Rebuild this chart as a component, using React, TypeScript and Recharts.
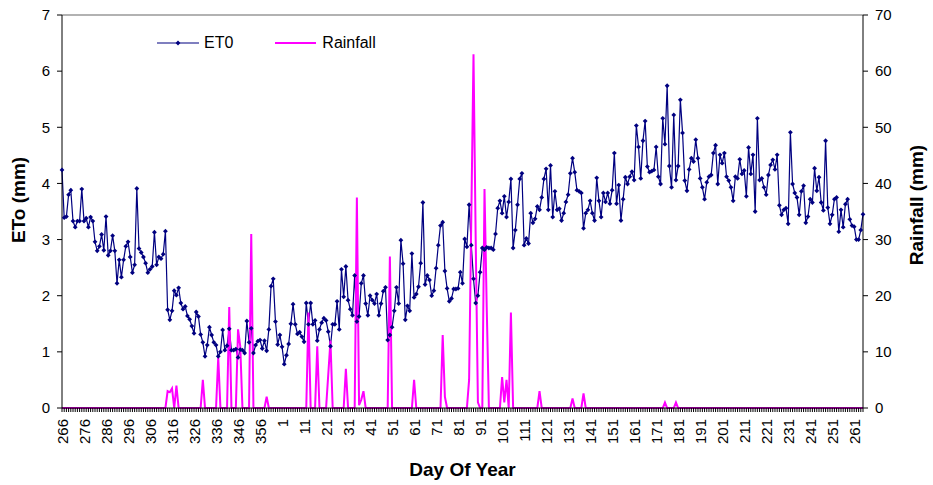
import React from 'react';
import { ComposedChart, Line, XAxis, YAxis, ReferenceLine } from 'recharts';

// day of year runs from 266 round to 265 of the next year
const DAYS: number[] = [
  ...Array.from({ length: 100 }, (_, k) => 266 + k),
  ...Array.from({ length: 265 }, (_, k) => 1 + k),
];

const TICK_DAYS = [
  266, 276, 286, 296, 306, 316, 326, 336, 346, 356,
  1, 11, 21, 31, 41, 51, 61, 71, 81, 91, 101, 111, 121, 131, 141, 151, 161, 171, 181,
  191, 201, 211, 221, 231, 241, 251, 261,
];

// daily ET0 (mm), one value per day in DAYS order
const ET0_MM = [
  4.24, 3.39, 3.41, 3.8, 3.88, 3.33, 3.22, 3.33, 3.33, 3.9,
  3.33, 3.38, 3.22, 3.4, 3.33, 2.96, 2.8, 2.88, 3.09, 2.81,
  3.41, 2.72, 2.8, 3.07, 2.8, 2.22, 2.64, 2.33, 2.64, 2.88,
  2.96, 2.69, 2.41, 2.55, 3.91, 2.84, 2.77, 2.69, 2.58, 2.41,
  2.47, 2.52, 3.13, 2.55, 2.69, 2.66, 2.74, 3.15, 1.75, 1.57,
  1.73, 2.09, 2.01, 2.14, 1.87, 1.76, 1.81, 1.64, 1.58, 1.46,
  1.33, 1.71, 1.63, 1.31, 1.17, 0.92, 1.12, 1.44, 1.3, 1.17,
  1.12, 0.92, 1.0, 1.39, 1.03, 1.11, 1.41, 1.03, 1.03, 1.05,
  0.9, 1.04, 1.03, 0.98, 1.55, 1.17, 1.42, 0.98, 1.12, 1.19,
  1.21, 1.06, 1.2, 1.02, 1.4, 2.17, 2.3, 1.54, 1.13, 1.3,
  1.09, 0.78, 0.94, 1.14, 1.5, 1.85, 1.49, 1.32, 1.35, 1.27,
  1.18, 1.87, 1.49, 1.87, 1.49, 1.56, 1.2, 1.4, 1.52, 1.6,
  1.56, 1.36, 1.1, 1.49, 1.49, 1.9, 1.4, 2.47, 1.98, 2.52,
  1.92, 1.76, 1.65, 2.36, 1.54, 1.63, 2.22, 2.36, 1.86, 1.65,
  2.0, 1.92, 1.86, 2.03, 1.65, 1.86, 2.08, 2.15, 1.21, 1.3,
  1.44, 1.73, 2.15, 1.86, 2.99, 2.57, 1.57, 1.82, 1.73, 2.75,
  1.97, 2.03, 2.16, 2.58, 3.66, 2.2, 2.36, 2.28, 2.0, 2.09,
  2.49, 2.9, 3.25, 3.31, 2.44, 2.13, 1.9, 1.95, 2.12, 2.12,
  2.13, 2.42, 2.22, 3.01, 2.87, 3.62, 2.9, 2.3, 1.87, 2.0,
  2.42, 2.85, 2.82, 2.86, 2.85, 2.85, 2.82, 3.1, 3.56, 3.69,
  3.47, 3.77, 3.4, 3.67, 4.08, 2.85, 3.17, 3.62, 4.08, 4.18,
  2.9, 3.02, 2.93, 3.47, 3.3, 3.37, 3.59, 3.53, 3.75, 4.08,
  4.26, 3.53, 4.32, 3.4, 3.86, 3.53, 3.55, 3.34, 3.47, 3.67,
  3.8, 4.18, 4.45, 4.2, 3.88, 3.86, 3.83, 3.2, 3.47, 3.53,
  3.69, 3.47, 3.34, 4.1, 3.69, 3.4, 3.83, 3.67, 3.83, 3.64,
  3.88, 4.54, 3.64, 3.97, 3.34, 3.72, 4.11, 3.99, 4.12, 4.21,
  4.06, 5.03, 4.65, 4.09, 4.76, 5.11, 4.3, 4.2, 4.22, 4.24,
  4.65, 4.12, 3.99, 5.16, 4.7, 5.74, 4.31, 3.93, 5.22, 4.06,
  4.31, 5.49, 4.9, 4.05, 3.87, 4.25, 4.45, 4.39, 4.78, 4.45,
  4.09, 3.93, 3.72, 4.02, 4.12, 4.15, 4.54, 4.68, 3.99, 4.51,
  4.36, 4.54, 4.12, 4.05, 3.93, 3.69, 4.12, 4.09, 4.43, 4.17,
  4.23, 3.77, 4.64, 4.17, 4.51, 3.5, 5.16, 4.06, 4.09, 3.93,
  3.8, 4.15, 4.33, 4.42, 4.25, 4.51, 3.61, 3.44, 3.53, 3.56,
  3.28, 4.91, 3.99, 3.83, 3.75, 3.44, 3.86, 3.96, 3.3, 3.41,
  3.72, 3.66, 4.27, 3.87, 4.11, 3.66, 3.52, 4.76, 3.57, 3.28,
  3.44, 3.72, 3.75, 3.14, 3.53, 3.22, 3.63, 3.72, 3.36, 3.25,
  3.23, 3.0, 3.0, 3.17, 3.45,
];

// rain days only [day of year, mm]; every other day is 0
const RAIN_DAYS: [number, number][] = [
  [314, 3.0], [315, 2.8], [316, 3.5], [318, 4.0], [330, 5.0], [337, 9.0],
  [342, 18], [346, 14], [347, 11], [352, 31], [359, 2],
  [13, 17], [17, 11], [22, 6], [23, 12], [30, 7], [35, 37.5], [36, 0.5],
  [37, 1.5], [38, 3], [50, 27], [61, 5], [74, 13], [75, 2],
  [86, 5], [87, 34], [88, 63], [89, 30], [90, 1], [93, 39], [94, 18],
  [101, 5.5], [102, 1], [103, 5], [105, 17], [118, 3], [133, 1.7],
  [138, 2.6], [175, 1], [180, 1],
];

const rainMap = new Map(RAIN_DAYS);
const data = DAYS.map((d, i) => ({
  day: String(d),
  et0: ET0_MM[i],
  rain: rainMap.get(d) ?? 0,
}));

const FONT = '"Liberation Sans", Arial, Helvetica, sans-serif';
const tickSet = new Set(TICK_DAYS.map(String));

const DayTick = (props: any) => {
  const { x, y, payload } = props;
  if (!tickSet.has(String(payload.value))) return <g />;
  const ty = y + 5;
  return (
    <text
      x={x}
      y={ty}
      transform={`rotate(-90, ${x}, ${ty})`}
      textAnchor="end"
      dominantBaseline="central"
      fontSize={15}
      fontFamily={FONT}
      fill="#000"
    >
      {payload.value}
    </text>
  );
};

const Diamond = (props: any) => {
  const { cx, cy, index } = props;
  if (cx == null || cy == null) return <g key={index} />;
  const r = 2.4;
  return (
    <path
      key={index}
      d={`M${cx},${cy - r}L${cx + r},${cy}L${cx},${cy + r}L${cx - r},${cy}Z`}
      fill="#000080"
    />
  );
};

// rotated axis title, centre given in page pixels
const VTitle = ({ text, cx, cy }: { text: string; cx: number; cy: number }) => (
  <text
    x={cx}
    y={cy}
    transform={`rotate(-90, ${cx}, ${cy})`}
    textAnchor="middle"
    dominantBaseline="central"
    fontSize={19}
    fontWeight={700}
    fontFamily={FONT}
    fill="#000"
  >
    {text}
  </text>
);

const tickStyle = { fontSize: 15, fontFamily: FONT, fill: '#000' };
const titleStyle = { fontSize: 19, fontWeight: 700, fontFamily: FONT, fill: '#000' };

export default function App() {
  return (
    <div style={{ position: 'absolute', left: 0, top: 0, width: 933, height: 485, background: '#fff' }}>
      <ComposedChart width={933} height={485} data={data} margin={{ top: 15, right: 0, bottom: 0, left: 0 }}>
        <XAxis
          dataKey="day"
          interval={0}
          height={77}
          tick={<DayTick />}
          tickSize={4}
          tickLine={{ stroke: '#000' }}
          axisLine={{ stroke: '#000' }}
          label={{ value: 'Day Of Year', position: 'insideBottom', offset: 9, style: titleStyle }}
        />
        <YAxis
          yAxisId="left"
          width={62}
          domain={[0, 7]}
          ticks={[0, 1, 2, 3, 4, 5, 6, 7]}
          tick={tickStyle}
          tickSize={5}
          tickMargin={7}
          tickLine={{ stroke: '#000' }}
          axisLine={{ stroke: '#000' }}
          label={{ content: () => <VTitle text="ETo (mm)" cx={18} cy={200} /> }}
        />
        <YAxis
          yAxisId="right"
          orientation="right"
          width={70}
          domain={[0, 70]}
          ticks={[0, 10, 20, 30, 40, 50, 60, 70]}
          tick={tickStyle}
          tickSize={5}
          tickMargin={7}
          tickLine={{ stroke: '#000' }}
          axisLine={{ stroke: '#000' }}
          label={{ content: () => <VTitle text="Rainfall (mm)" cx={916} cy={205} /> }}
        />
        <ReferenceLine yAxisId="left" y={7} stroke="#999" strokeWidth={1.5} />
        <Line
          yAxisId="left"
          dataKey="et0"
          stroke="#000080"
          strokeWidth={1.2}
          dot={<Diamond />}
          activeDot={false}
          isAnimationActive={false}
        />
        <Line
          yAxisId="right"
          dataKey="rain"
          stroke="#FF00FF"
          strokeWidth={2}
          dot={false}
          activeDot={false}
          isAnimationActive={false}
        />
      </ComposedChart>
      <div style={{ position: 'absolute', left: 157, top: 33, fontFamily: FONT, fontSize: 16, color: '#000', display: 'flex', alignItems: 'center' }}>
        <svg width={42} height={20} style={{ display: 'block' }}>
          <line x1={0} y1={10} x2={42} y2={10} stroke="#000080" strokeWidth={1.2} />
          <path d="M21,7.6L23.4,10L21,12.4L18.6,10Z" fill="#000080" />
        </svg>
        <span style={{ marginLeft: 5 }}>ET0</span>
        <svg width={41} height={20} style={{ display: 'block', marginLeft: 42 }}>
          <line x1={0} y1={10} x2={41} y2={10} stroke="#FF00FF" strokeWidth={2} />
        </svg>
        <span style={{ marginLeft: 6 }}>Rainfall</span>
      </div>
    </div>
  );
}
